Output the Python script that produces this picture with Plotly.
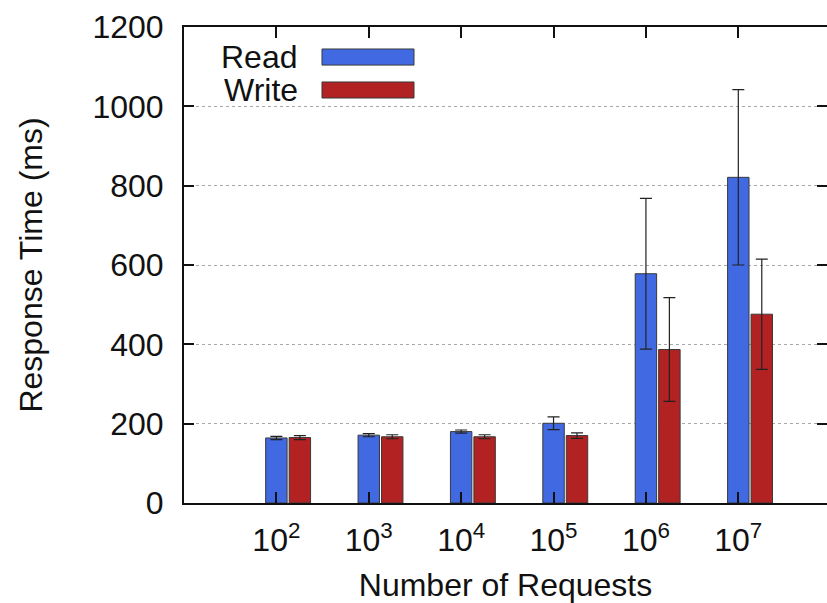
import plotly.graph_objects as go

categories = ["10<sup>2</sup>", "10<sup>3</sup>", "10<sup>4</sup>", "10<sup>5</sup>", "10<sup>6</sup>", "10<sup>7</sup>"]
read_vals = [164, 171, 180, 201, 578, 821]
read_err = [4, 4, 4, 16, 190, 221]
write_vals = [165, 167, 167, 170, 387, 476]
write_err = [5, 5, 5, 7, 131, 139]
y_ticks = [0, 200, 400, 600, 800, 1000, 1200]

idx = list(range(len(categories)))
BLUE = "#4169E1"
RED = "#B22222"
FONT = "Liberation Sans, Arial, sans-serif"
BW = 0.232
FS = 32

fig = go.Figure()
fig.add_trace(go.Bar(
    x=idx, y=read_vals, name="Read", width=BW, offset=-BW / 2,
    marker=dict(color=BLUE, line=dict(color="#3a3a3a", width=1)),
    error_y=dict(type="data", array=read_err, color="#222222", thickness=1.2, width=6),
))
fig.add_trace(go.Bar(
    x=idx, y=write_vals, name="Write", width=BW, offset=0.254 - BW / 2,
    marker=dict(color=RED, line=dict(color="#3a3a3a", width=1)),
    error_y=dict(type="data", array=write_err, color="#222222", thickness=1.2, width=6),
))

fig.update_layout(
    width=827, height=603,
    margin=dict(l=184, r=0, t=27, b=100, autoexpand=False),
    paper_bgcolor="white", plot_bgcolor="white",
    showlegend=False, barmode="overlay",
    font=dict(family=FONT, size=FS, color="#111111"),
)
fig.update_xaxes(
    range=[-1.0, 5.96], tickvals=idx, ticktext=categories,
    showgrid=False, zeroline=False,
    showline=True, linecolor="#111111", linewidth=2, mirror="ticks",
    ticks="inside", ticklen=11, tickcolor="#111111", tickwidth=1.5,
    tickfont=dict(size=FS), ticklabelstandoff=8,
    title=dict(text="Number of Requests", font=dict(size=FS), standoff=24),
)
fig.update_yaxes(
    range=[0, 1200], tickvals=y_ticks,
    showgrid=True, gridcolor="#a8a8a8", griddash="dot", gridwidth=1.2,
    zeroline=False,
    showline=True, linecolor="#111111", linewidth=2, mirror="ticks",
    ticks="inside", ticklen=10, tickcolor="#111111", tickwidth=1.5,
    tickfont=dict(size=FS), ticklabelstandoff=12,
    title=dict(text="Response Time (ms)", font=dict(size=FS), standoff=40),
)

# manual legend (gnuplot style: label then colour box)
legend_items = [("Read", BLUE, 0.937, 0.920, 0.9538), ("Write", RED, 0.8676, 0.8508, 0.8845)]
for label, col, yc, y0, y1 in legend_items:
    fig.add_annotation(x=0.1804, y=yc, xref="paper", yref="paper", text=label,
                       showarrow=False, xanchor="right", yanchor="middle",
                       font=dict(size=FS, family=FONT, color="#111111"))
    fig.add_shape(type="rect", xref="paper", yref="paper", x0=0.2146, x1=0.3577, y0=y0, y1=y1,
                  fillcolor=col, line=dict(color="#3a3a3a", width=1))

fig.write_html("out.html", config={"displayModeBar": False},
               post_script="document.body.style.margin='0';document.body.style.overflow='hidden';")
